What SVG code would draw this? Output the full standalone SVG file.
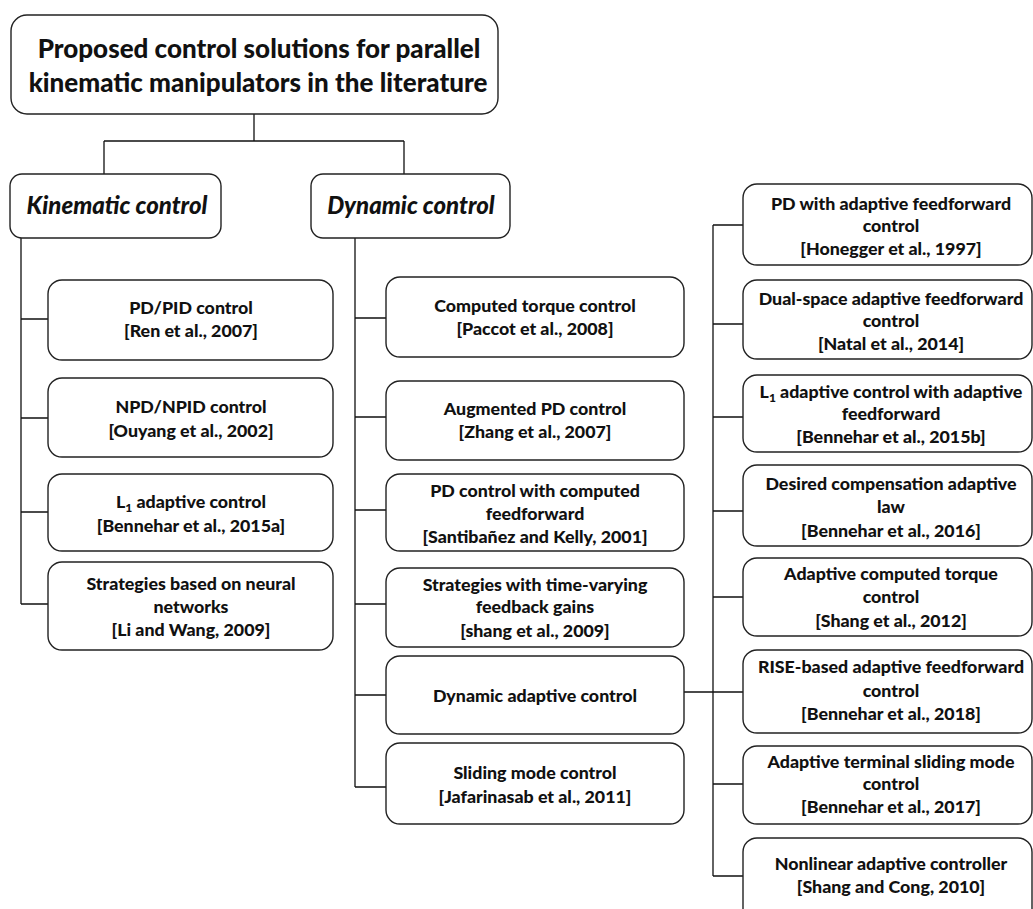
<svg xmlns="http://www.w3.org/2000/svg" width="1033" height="909" viewBox="0 0 1033 909">
<style>
.box{fill:#fff;stroke:#222;stroke-width:1.4}
.t{font-family:Lato,"Open Sans","Liberation Sans",sans-serif;font-weight:900;font-size:17.8px;fill:#111;text-anchor:middle}
.big{font-size:26px}
.cat{font-size:24px;font-style:italic}
.sub{font-size:12px}
.conn{fill:none;stroke:#111;stroke-width:1.3}
</style>
<rect width="1033" height="909" fill="#fff"/>
<g id="connectors">
<path class="conn" d="M254 114V141M104 141H404M104 141V174M404 141V174"/>
<path class="conn" d="M21 238V604M21 319H48M21 418H48M21 512H48M21 604H48"/>
<path class="conn" d="M355 238V787M355 318H386M355 417H386M355 510H386M355 604H386M355 695H386M355 787H386"/>
<path class="conn" d="M684 692H743M713 225V876M713 225H743M713 324H743M713 417H743M713 511H743M713 597H743M713 784H743M713 876H743"/>
</g>
<g id="root"><rect class="box" x="11" y="15" width="487" height="99" rx="16"/>
<text class="t big" x="259" y="58">Proposed control solutions for parallel</text>
<text class="t big" x="258" y="92">kinematic manipulators in the literature</text></g>
<g id="kinematic"><rect class="box" x="10" y="174" width="211" height="64" rx="12"/>
<text class="t cat" x="117" y="214">Kinematic control</text></g>
<g id="dynamic"><rect class="box" x="311" y="174" width="199" height="64" rx="12"/>
<text class="t cat" x="411" y="214">Dynamic control</text></g>

<g id="k1"><rect class="box" x="48" y="280" width="285" height="80" rx="14"/>
<text class="t" x="191" y="314">PD/PID control</text><text class="t" x="191" y="337">[Ren et al., 2007]</text></g>
<g id="k2"><rect class="box" x="48" y="378" width="285" height="79" rx="14"/>
<text class="t" x="191" y="413">NPD/NPID control</text><text class="t" x="191" y="437">[Ouyang et al., 2002]</text></g>
<g id="k3"><rect class="box" x="48" y="474" width="285" height="77" rx="14"/>
<text class="t" x="191" y="508">L<tspan class="sub" dy="4">1</tspan><tspan dy="-4"> adaptive control</tspan></text><text class="t" x="191" y="532">[Bennehar et al., 2015a]</text></g>
<g id="k4"><rect class="box" x="48" y="562" width="285" height="88" rx="14"/>
<text class="t" x="191" y="590">Strategies based on neural</text><text class="t" x="191" y="613">networks</text><text class="t" x="191" y="636">[Li and Wang, 2009]</text></g>

<g id="d1"><rect class="box" x="386" y="277" width="298" height="80" rx="14"/>
<text class="t" x="535" y="312">Computed torque control</text><text class="t" x="535" y="335">[Paccot et al., 2008]</text></g>
<g id="d2"><rect class="box" x="386" y="381" width="298" height="79" rx="14"/>
<text class="t" x="535" y="415">Augmented PD control</text><text class="t" x="535" y="438">[Zhang et al., 2007]</text></g>
<g id="d3"><rect class="box" x="386" y="474" width="298" height="77" rx="14"/>
<text class="t" x="535" y="497">PD control with computed</text><text class="t" x="535" y="520">feedforward</text><text class="t" x="535" y="543">[Santibañez and Kelly, 2001]</text></g>
<g id="d4"><rect class="box" x="386" y="568" width="298" height="79" rx="14"/>
<text class="t" x="535" y="591">Strategies with time-varying</text><text class="t" x="535" y="613">feedback gains</text><text class="t" x="535" y="637">[shang et al., 2009]</text></g>
<g id="d5"><rect class="box" x="386" y="656" width="298" height="78" rx="14"/>
<text class="t" x="535" y="702">Dynamic adaptive control</text></g>
<g id="d6"><rect class="box" x="386" y="743" width="298" height="81" rx="14"/>
<text class="t" x="535" y="779">Sliding mode control</text><text class="t" x="535" y="803">[Jafarinasab et al., 2011]</text></g>

<g id="a1"><rect class="box" x="743" y="184" width="289" height="81" rx="14"/>
<text class="t" x="891" y="210">PD with adaptive feedforward</text><text class="t" x="891" y="232">control</text><text class="t" x="891" y="255">[Honegger et al., 1997]</text></g>
<g id="a2"><rect class="box" x="743" y="280" width="289" height="79" rx="14"/>
<text class="t" x="891" y="305">Dual-space adaptive feedforward</text><text class="t" x="891" y="327">control</text><text class="t" x="891" y="350">[Natal et al., 2014]</text></g>
<g id="a3"><rect class="box" x="743" y="375" width="289" height="77" rx="14"/>
<text class="t" x="891" y="398">L<tspan class="sub" dy="4">1</tspan><tspan dy="-4"> adaptive control with adaptive</tspan></text><text class="t" x="891" y="420">feedforward</text><text class="t" x="891" y="443">[Bennehar et al., 2015b]</text></g>
<g id="a4"><rect class="box" x="743" y="465" width="289" height="81" rx="14"/>
<text class="t" x="891" y="490">Desired compensation adaptive</text><text class="t" x="891" y="513">law</text><text class="t" x="891" y="537">[Bennehar et al., 2016]</text></g>
<g id="a5"><rect class="box" x="743" y="558" width="289" height="78" rx="14"/>
<text class="t" x="891" y="580">Adaptive computed torque</text><text class="t" x="891" y="603">control</text><text class="t" x="891" y="627">[Shang et al., 2012]</text></g>
<g id="a6"><rect class="box" x="743" y="650" width="289" height="83" rx="14"/>
<text class="t" x="891" y="673">RISE-based adaptive feedforward</text><text class="t" x="891" y="697">control</text><text class="t" x="891" y="720">[Bennehar et al., 2018]</text></g>
<g id="a7"><rect class="box" x="743" y="746" width="289" height="78" rx="14"/>
<text class="t" x="891" y="768">Adaptive terminal sliding mode</text><text class="t" x="891" y="790">control</text><text class="t" x="891" y="813">[Bennehar et al., 2017]</text></g>
<g id="a8"><rect class="box" x="743" y="838" width="289" height="90" rx="14"/>
<text class="t" x="891" y="870">Nonlinear adaptive controller</text><text class="t" x="891" y="893">[Shang and Cong, 2010]</text></g>
</svg>
